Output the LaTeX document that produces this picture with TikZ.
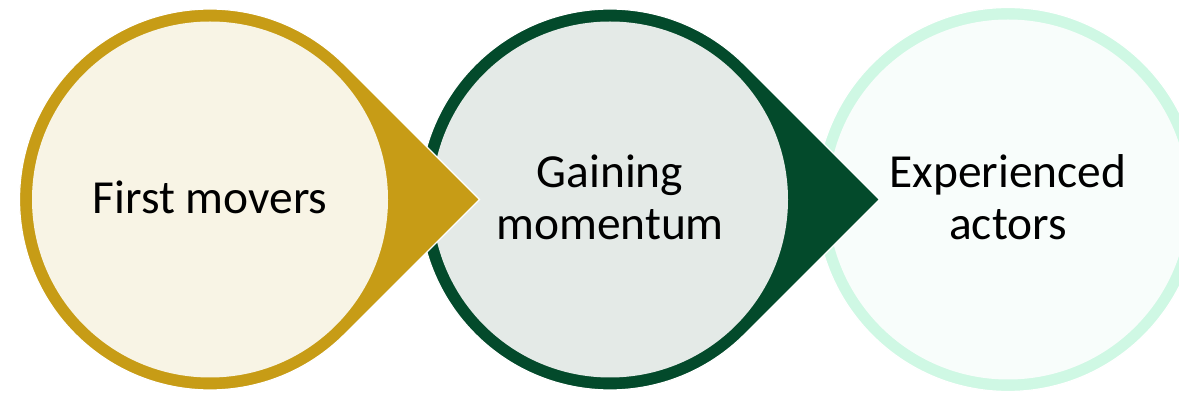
\documentclass[tikz,border=0pt]{standalone}
\usepackage{fontspec}
\setmainfont{Carlito}

\definecolor{moverGold}{HTML}{C79C16}
\definecolor{moverCream}{HTML}{F8F4E5}
\definecolor{momentumGreen}{HTML}{034A2B}
\definecolor{momentumMist}{HTML}{E4EAE7}
\definecolor{actorMint}{HTML}{CFF8E4}
\definecolor{actorWhite}{HTML}{F8FDFB}

\tikzset{
    stage text/.style={align=center, font=\fontsize{27}{29.8}\selectfont},
}

\begin{document}
\begin{tikzpicture}[x=0.2mm, y=0.2mm]

    \def\rout{190.5}
    \def\rin{178}
    \def\cy{193.5}

    % ── Frame ─────────────────────────────────────────────────────────────────
    \useasboundingbox (0,0) rectangle (1179,393);
    \clip (0,0) rectangle (1179,393);

    % ── Last stage: plain ring, partly off the right edge ─────────────────────
    \filldraw[fill=actorMint, draw=white, line width=0.7pt]
        (1008,\cy) circle[radius=192];
    \fill[actorWhite] (1008,\cy) circle[radius=180];
    \node[stage text] (actors) at (1008, {\cy+2}) {Experienced\\actors};

    % ── Pointed stages, right to left so each point lies over the next ring ──
    \foreach \cx/\ring/\core/\name/\txt in {
            610/momentumGreen/momentumMist/momentum/{Gaining\\momentum},
            210/moverGold/moverCream/movers/{First movers}} {
        % teardrop in the ring colour, point to the right
        \filldraw[fill=\ring, draw=white, line width=0.7pt]
            ({\cx+1.4142*\rout}, \cy) -- ({\cx+0.7071*\rout}, {\cy+0.7071*\rout})
            arc[start angle=45, end angle=315, radius=\rout] -- cycle;
        % inner disc
        \fill[\core] (\cx,\cy) circle[radius=\rin];
        % label
        \node[stage text] (\name) at (\cx, {\cy+2}) {\txt};
    }

\end{tikzpicture}
\end{document}
